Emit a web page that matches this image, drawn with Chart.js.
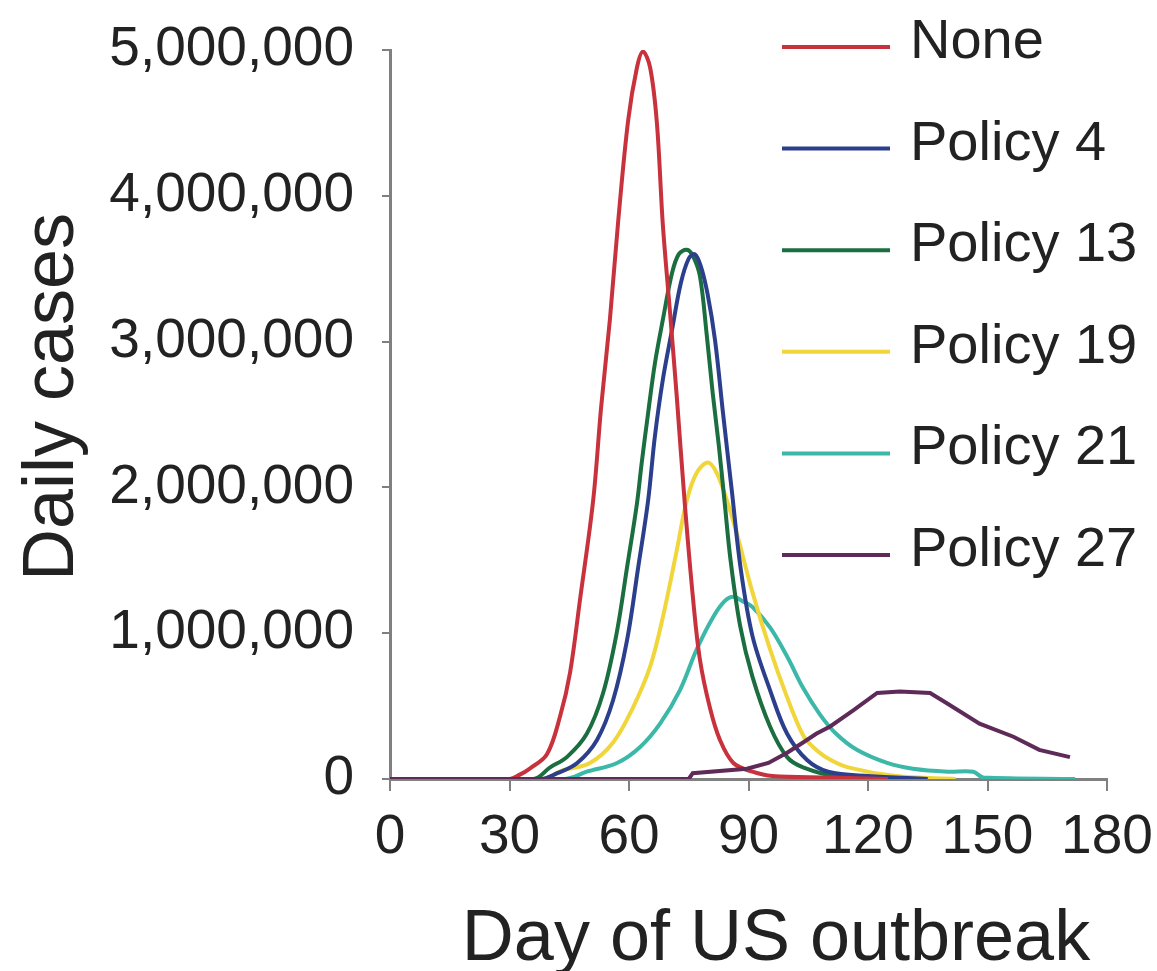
<!DOCTYPE html>
<html>
<head>
<meta charset="utf-8">
<script src="https://cdn.jsdelivr.net/npm/chart.js@4.4.1/dist/chart.umd.min.js"></script>
<style>
  html, body { margin: 0; padding: 0; background: #fff; }
  #wrap { width: 1157px; height: 971px; }
</style>
</head>
<body>
<div id="wrap"><canvas id="graphCanvas" width="1157" height="971"></canvas></div>
<script>
// Datos (días desde el inicio, casos diarios)
const seriesNames = ['None', 'Policy 4', 'Policy 13', 'Policy 19', 'Policy 21', 'Policy 27'];
const seriesColors = ['#c8323c', '#2b3f8c', '#1b6e40', '#f0d63a', '#3bb8a8', '#5e2a58'];

const noneDays = [0, 30, 32.6, 35, 39.4, 42.7, 45.2, 47.7, 51, 53, 55.2, 57.3, 59.8, 62, 63.5, 65.3, 67, 68.5, 70.3, 72, 74, 76.1, 77.8, 80.3, 82.8, 86.2, 91, 96, 110, 125];
const noneCases = [0, 0, 30000, 70000, 170000, 430000, 730000, 1230000, 1910000, 2550000, 3150000, 3830000, 4520000, 4880000, 4990000, 4880000, 4500000, 3800000, 3200000, 2620000, 1890000, 1230000, 820000, 490000, 270000, 110000, 50000, 20000, 10000, 0];

const policy4Days = [0, 38, 42, 47, 52, 56, 59.5, 62.3, 64.8, 66.5, 68.5, 70.8, 73, 75, 76.5, 78, 79.7, 81.6, 83.6, 85.8, 88, 91, 95.4, 99.7, 104.7, 110, 120, 135];
const policy4Cases = [0, 0, 40000, 110000, 270000, 540000, 950000, 1450000, 1910000, 2350000, 2740000, 3080000, 3400000, 3570000, 3600000, 3520000, 3330000, 3010000, 2510000, 1980000, 1450000, 980000, 610000, 310000, 130000, 50000, 20000, 0];

const policy13Days = [0, 36, 40.2, 44.4, 49.4, 53.5, 56.9, 59.5, 62, 63.2, 64.8, 66.5, 68.5, 70.8, 72.5, 74.5, 76, 77.8, 79.5, 81, 82.5, 84, 85.5, 87.9, 91, 95.4, 99.7, 103.7, 112, 130];
const policy13Cases = [0, 0, 80000, 150000, 310000, 590000, 1000000, 1450000, 1890000, 2170000, 2510000, 2850000, 3150000, 3470000, 3600000, 3630000, 3590000, 3450000, 3050000, 2650000, 2300000, 1900000, 1500000, 1050000, 700000, 360000, 150000, 80000, 20000, 0];

const policy19Days = [0, 38, 43.5, 50.2, 56, 61, 65.3, 68.5, 72, 74.5, 77, 79.8, 82, 84.6, 87, 91, 95.4, 99.7, 103.7, 106.2, 110, 115, 127, 142];
const policy19Cases = [0, 0, 60000, 110000, 250000, 490000, 770000, 1110000, 1570000, 1910000, 2100000, 2170000, 2100000, 1910000, 1690000, 1280000, 890000, 560000, 300000, 220000, 140000, 80000, 20000, 0];

const policy21Days = [0, 44, 49.4, 57, 62.8, 67.8, 72.8, 77, 81.1, 84, 86.2, 88.5, 91, 95.4, 99.7, 103.8, 108, 112, 117.2, 124.8, 131.3, 140, 146.4, 149, 172];
const policy21Cases = [0, 0, 50000, 110000, 220000, 380000, 610000, 890000, 1110000, 1220000, 1250000, 1220000, 1180000, 1040000, 840000, 620000, 440000, 310000, 200000, 110000, 70000, 50000, 50000, 10000, 0];

const policy27Days = [0, 75, 76, 89.6, 95, 99.7, 103.7, 107, 110.5, 116.3, 122.3, 128, 135.6, 139.8, 148, 156.5, 163, 170.7];
const policy27Cases = [0, 0, 40000, 70000, 110000, 180000, 250000, 310000, 360000, 470000, 590000, 600000, 590000, 520000, 380000, 290000, 200000, 150000];

const xTicks = [0, 30, 60, 90, 120, 150, 180];
const yTicks = [0, 1000000, 2000000, 3000000, 4000000, 5000000];

const allDays = [noneDays, policy4Days, policy13Days, policy19Days, policy21Days, policy27Days];
const allCases = [noneCases, policy4Cases, policy13Cases, policy19Cases, policy21Cases, policy27Cases];

const FONT = "'Liberation Sans', Arial, sans-serif";

// Leyenda y títulos dibujados a mano
const labelsPlugin = {
    id: 'labelsPlugin',
    afterDraw(chart) {
        const ctx = chart.ctx;
        ctx.save();
        // leyenda
        seriesNames.forEach((name, i) => {
            const y = 47 + i * 101.6;
            ctx.strokeStyle = seriesColors[i];
            ctx.lineWidth = 4;
            ctx.beginPath();
            ctx.moveTo(782, y);
            ctx.lineTo(890, y);
            ctx.stroke();
            ctx.fillStyle = '#222';
            ctx.font = '56px ' + FONT;
            ctx.textAlign = 'left';
            ctx.textBaseline = 'alphabetic';
            ctx.fillText(name, 910, y + 11);
        });
        // título eje x
        ctx.font = '72px ' + FONT;
        ctx.textAlign = 'center';
        ctx.fillText('Day of US outbreak', 776, 960);
        // título eje y
        ctx.translate(73, 397);
        ctx.rotate(-Math.PI / 2);
        ctx.fillText('Daily cases', 0, 0);
        ctx.restore();
    }
};

const ctx = document.getElementById('graphCanvas').getContext('2d');
const chart = new Chart(ctx, {
    type: 'line',
    data: {
        datasets: seriesNames.map((name, i) => ({
            label: name,
            data: allDays[i].map((d, k) => ({ x: d, y: allCases[i][k] })),
            borderColor: seriesColors[i],
            borderWidth: 4,
            pointRadius: 0,
            fill: false,
            tension: i === 5 ? 0 : 0.35,
            order: i === 5 ? -1 : 0
        }))
    },
    options: {
        responsive: false,
        animation: false,
        devicePixelRatio: 1,
        layout: { padding: { left: 0, top: 50, right: 50, bottom: 0 } },
        plugins: { legend: { display: false }, tooltip: { enabled: false } },
        scales: {
            x: {
                type: 'linear',
                min: 0,
                max: 180,
                afterFit: s => { s.height = 192; s.paddingLeft = 0; s.paddingRight = 0; },
                afterBuildTicks: s => { s.ticks = xTicks.map(v => ({ value: v })); },
                border: { display: true, color: '#808080', width: 3 },
                grid: { display: true, drawOnChartArea: false, drawTicks: true, tickLength: 12, color: '#808080', lineWidth: 2 },
                ticks: { color: '#222', padding: 14, maxRotation: 0, font: { family: FONT, size: 55 } }
            },
            y: {
                min: 0,
                max: 5000000,
                afterFit: s => { s.width = 390; s.paddingTop = 0; s.paddingBottom = 0; },
                afterBuildTicks: s => { s.ticks = yTicks.map(v => ({ value: v })); },
                border: { display: true, color: '#808080', width: 3 },
                grid: { display: true, drawOnChartArea: false, drawTicks: true, tickLength: 8, color: '#808080', lineWidth: 2 },
                ticks: {
                    color: '#222',
                    padding: 28,
                    font: { family: FONT, size: 55 },
                    callback: v => v.toLocaleString('en-US')
                }
            }
        }
    },
    plugins: [labelsPlugin]
});
</script>
</body>
</html>
